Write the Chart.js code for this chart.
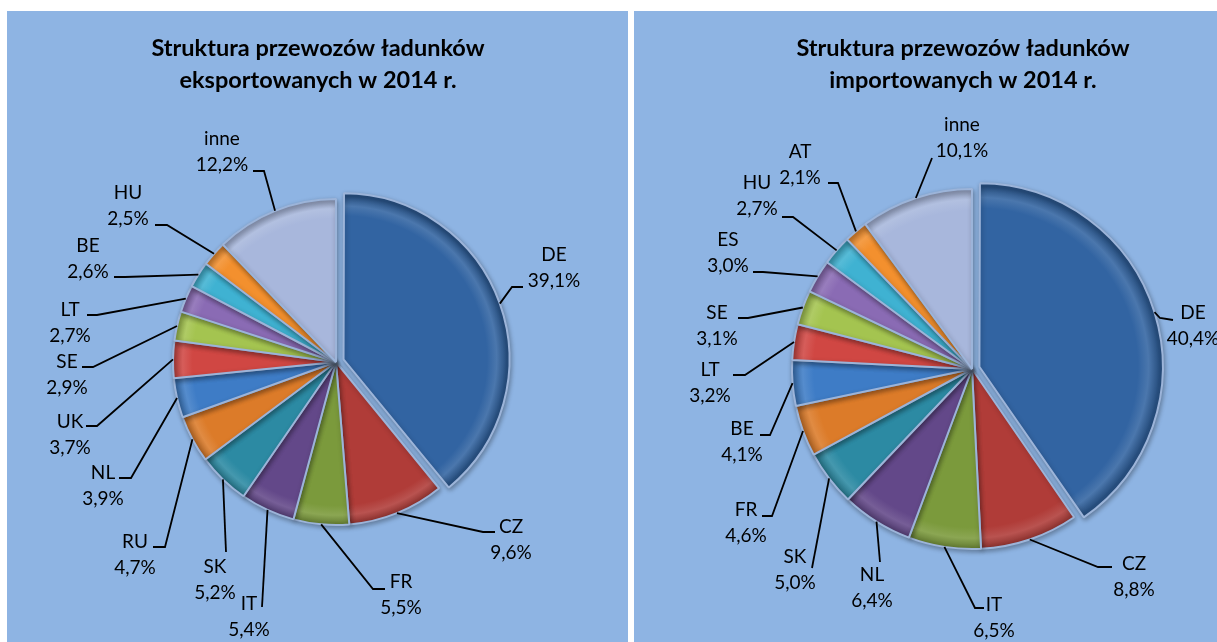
<!DOCTYPE html>
<html>
<head>
<meta charset="utf-8">
<script src="https://cdn.jsdelivr.net/npm/chart.js@4.4.0/dist/chart.umd.min.js"></script>
<style>
  html, body { margin: 0; padding: 0; background: #fff; overflow: hidden; width: 1217px; height: 642px; }
  .panel { position: absolute; top: 11px; height: 631px; background: #8EB4E3; }
  .panel canvas { display: block; }
  #left { left: 7px; width: 621px; }
  #right { left: 634px; width: 658px; }
</style>
</head>
<body>
<div class="panel" id="left"><canvas id="exportChart" width="621" height="631"></canvas></div>
<div class="panel" id="right"><canvas id="importChart" width="658" height="631"></canvas></div>
<script>
// ---------- data ----------
const exportTitle = ["Struktura przewozów ładunków", "eksportowanych w 2014 r."];
const exportCountries = ["DE", "CZ", "FR", "IT", "SK", "RU", "NL", "UK", "SE", "LT", "BE", "HU", "inne"];
const exportShares = [39.1, 9.6, 5.5, 5.4, 5.2, 4.7, 3.9, 3.7, 2.9, 2.7, 2.6, 2.5, 12.2];

const importTitle = ["Struktura przewozów ładunków", "importowanych w 2014 r."];
const importCountries = ["DE", "CZ", "IT", "NL", "SK", "FR", "BE", "LT", "SE", "ES", "HU", "AT", "inne"];
const importShares = [40.4, 8.8, 6.5, 6.4, 5.0, 4.6, 4.1, 3.2, 3.1, 3.0, 2.7, 2.1, 10.1];

// ---------- styles / layout ----------
const sliceColors = ["#3264A2", "#B03C38", "#7B9A3C", "#634889", "#2C8AA3", "#DC7B29",
                     "#3E7CC6", "#D04743", "#A4C450", "#8A6BB4", "#3FB2D2", "#F3902E", "#A8B7DC"];

// label text position (first line centre) and leader points, canvas coords
const exportLabelAt = [[547,244],[504,516],[394,571],[242,593],[208,556],[128,531],[96,462],
                       [63,411],[60,351],[63,299],[81,235],[121,182],[215,128]];
const exportLeaders = [[[516,276],[505,276]], [[488,521],[476,521]], [[378,578],[366,578]],
                       [[255,596]], [[219,541]], [[146,536],[158,536]], [[112,467],[124,467]],
                       [[79,415],[90,415]], [[75,356],[86,356]], [[80,304],[90,304]],
                       [[107,266],[118,266]], [[148,214],[160,214]], [[246,160],[257,160]]];

const importLabelAt = [[559,302],[500,553],[360,594],[238,564],[161,546],[112,499],[108,418],
                       [76,359],[83,302],[94,229],[123,172],[166,141],[328,114]];
const importLeaders = [[[539,309],[526,307]], [[478,556],[464,556]], [[350,597],[341,597]],
                       [[246,551]], [[178,557]], [[128,505],[138,505]], [[126,424],[136,424]],
                       [[99,364],[111,364]], [[104,307],[114,307]], [[119,261],[129,261]],
                       [[148,206],[159,206]], [[194,172],[204,172]], [[298,147]]];

function shade(hex, amt) {
  const n = parseInt(hex.slice(1), 16);
  let r = n >> 16, g = (n >> 8) & 255, b = n & 255;
  const t = amt < 0 ? 0 : 255, p = Math.abs(amt);
  r = Math.round(r + (t - r) * p); g = Math.round(g + (t - g) * p); b = Math.round(b + (t - b) * p);
  return `rgb(${r},${g},${b})`;
}

function sliceFill(radius) {
  return (c) => {
    const base = sliceColors[c.dataIndex];
    const a = c.chart.chartArea;
    if (!a) return base;
    const cx = (a.left + a.right) / 2, cy = (a.top + a.bottom) / 2;
    const g = c.chart.ctx.createRadialGradient(cx, cy, 0, cx, cy, radius);
    g.addColorStop(0, base);
    g.addColorStop(0.88, base);
    g.addColorStop(0.94, shade(base, 0.12));
    g.addColorStop(1, shade(base, -0.22));
    return g;
  };
}

const fmt = v => v.toFixed(1).replace(".", ",") + "%";

const pieLabels = {
  id: "pieLabels",
  beforeDatasetsDraw(chart) {
    const ctx = chart.ctx;
    ctx.save();
    ctx.shadowColor = "rgba(0,0,0,0.3)";
    ctx.shadowBlur = 5;
    ctx.shadowOffsetX = 1;
    ctx.shadowOffsetY = 2;
  },
  afterDatasetsDraw(chart, args, opts) {
    const ctx = chart.ctx;
    ctx.restore();
    ctx.save();
    ctx.fillStyle = "#000";
    ctx.strokeStyle = "#000";
    ctx.lineWidth = 1.8;
    ctx.textAlign = "center";
    ctx.textBaseline = "middle";

    ctx.font = "bold 23.5px Lato";
    opts.title.forEach((t, i) => ctx.fillText(t, opts.titleX, opts.titleY + i * 32));

    const values = chart.data.datasets[0].data;
    chart.getDatasetMeta(0).data.forEach((arc, i) => {
      const p = arc.getProps(["x", "y", "startAngle", "endAngle", "outerRadius", "circumference"], true);
      const mid = (p.startAngle + p.endAngle) / 2;
      const off = (arc.options.offset || 0) / 4;
      const fix = 1 - Math.sin(Math.min(Math.PI, p.circumference));
      const r = p.outerRadius + off * (1 + fix);
      const ex = p.x + Math.cos(mid) * r, ey = p.y + Math.sin(mid) * r;

      const pts = opts.leaders[i];
      ctx.beginPath();
      ctx.moveTo(pts[0][0], pts[0][1]);
      for (let k = 1; k < pts.length; k++) ctx.lineTo(pts[k][0], pts[k][1]);
      ctx.lineTo(ex, ey);
      ctx.stroke();

      const [lx, ly] = opts.labelAt[i];
      ctx.font = "19px Lato";
      ctx.fillText(chart.data.labels[i], lx, ly);
      ctx.fillText(fmt(values[i]), lx, ly + 26);
    });
    ctx.restore();
  }
};

function makePie(id, labels, values, radius, explode, padding, title, titleX, titleY, labelAt, leaders) {
  return new Chart(document.getElementById(id), {
    type: "pie",
    data: {
      labels: labels,
      datasets: [{
        data: values,
        backgroundColor: sliceFill(radius),
        borderColor: "#9CB4D9",
        borderWidth: 2,
        offset: values.map((v, i) => (i === 0 ? explode : 0)),
        hoverOffset: 0
      }]
    },
    options: {
      responsive: false,
      animation: false,
      events: [],
      radius: radius,
      layout: { padding: padding },
      plugins: {
        legend: { display: false },
        tooltip: { enabled: false },
        pieLabels: { title, titleX, titleY, labelAt, leaders }
      }
    },
    plugins: [pieLabels]
  });
}

makePie("exportChart", exportCountries, exportShares, 163, 32,
  { left: 37, right: 0, top: 71, bottom: 0 }, exportTitle, 311, 37, exportLabelAt, exportLeaders);
makePie("importChart", importCountries, importShares, 180, 31,
  { left: 18, right: 0, top: 85, bottom: 0 }, importTitle, 329, 37, importLabelAt, importLeaders);
</script>
</body>
</html>
